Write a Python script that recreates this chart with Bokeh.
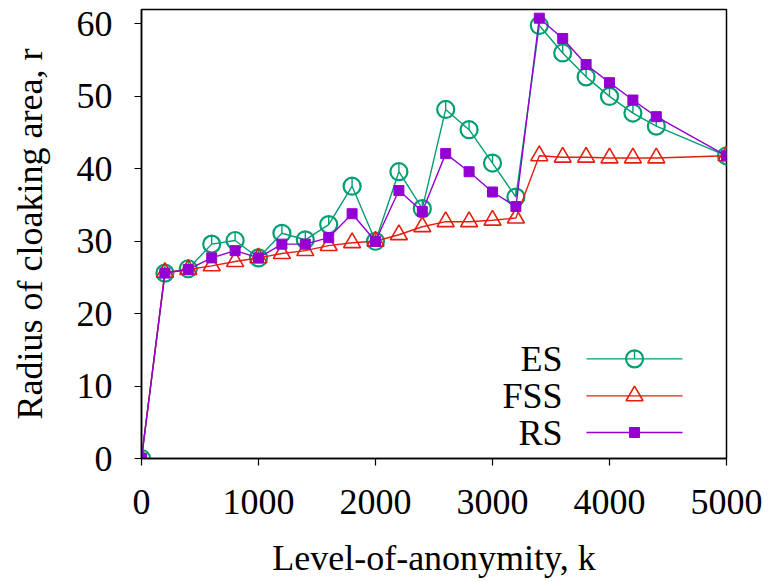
from bokeh.plotting import figure
from bokeh.models import Range1d, Label, FixedTicker
from bokeh.embed import file_html
from bokeh.resources import INLINE

# Level-of-anonymity k and the cloaking radius of each scheme
k = [0, 200, 400, 600, 800, 1000, 1200, 1400, 1600, 1800, 2000, 2200,
     2400, 2600, 2800, 3000, 3200, 3400, 3600, 3800, 4000, 4200, 4400, 5000]
es = [0, 25.6, 26.2, 29.6, 30.1, 27.7, 31.1, 30.2, 32.3, 37.6, 30.0, 39.6,
      34.5, 48.2, 45.4, 40.8, 36.1, 59.8, 56.0, 52.7, 50.0, 47.7, 45.9, 41.8]
fss = [0, 25.7, 26.1, 26.6, 27.2, 27.7, 28.3, 28.7, 29.4, 29.8, 30.0, 30.9,
       32.0, 32.7, 32.7, 32.9, 33.2, 41.8, 41.6, 41.6, 41.5, 41.5, 41.5, 41.8]
rs = [0, 25.6, 26.1, 27.7, 28.7, 27.7, 29.6, 29.6, 30.5, 33.8, 30.0, 37.0,
      34.1, 42.1, 39.6, 36.8, 34.8, 60.8, 58.0, 54.4, 51.9, 49.5, 47.2, 41.8]

x_ticks = [0, 1000, 2000, 3000, 4000, 5000]
y_ticks = [0, 10, 20, 30, 40, 50, 60]

series_names = ["ES", "FSS", "RS"]

GREEN = "#009e73"
RED = "#e51e10"
PURPLE = "#9400d3"
FONT = "'Liberation Serif', 'Times New Roman', serif"
FS = "36px"

X0, X1 = 0, 5000
Y0, Y1 = 0, 62

p = figure(width=771, height=582, output_backend="svg", toolbar_location=None,
           x_range=Range1d(X0, X1), y_range=Range1d(Y0, Y1),
           min_border_left=141, min_border_right=45,
           min_border_top=9, min_border_bottom=124)

p.grid.visible = False
p.background_fill_color = "white"
p.border_fill_color = "white"
p.outline_line_color = "black"
p.outline_line_width = 1.5

p.xaxis.ticker = FixedTicker(ticks=x_ticks)
p.yaxis.ticker = FixedTicker(ticks=y_ticks)
for ax in (p.xaxis, p.yaxis):
    ax.axis_line_color = "black"
    ax.axis_line_width = 1.5
    ax.major_tick_line_color = "black"
    ax.major_tick_line_width = 1.2
    ax.major_tick_in = 0
    ax.major_tick_out = 7
    ax.minor_tick_line_color = None
    ax.major_label_text_font = FONT
    ax.major_label_text_font_size = FS
    ax.major_label_text_color = "black"
    ax.axis_label_text_font = FONT
    ax.axis_label_text_font_size = FS
    ax.axis_label_text_font_style = "normal"
    ax.axis_label_text_color = "black"

p.xaxis.axis_label = "Level-of-anonymity, k"
p.yaxis.axis_label = "Radius of cloaking area, r"
p.xaxis.major_label_standoff = 24
p.xaxis.axis_label_standoff = 21
p.yaxis.major_label_standoff = 22
p.yaxis.axis_label_standoff = 24

# pixel -> data conversion for the small spoke drawn inside the circles
frame_h = 582 - 9 - 124
spoke = 8.0 * (Y1 - Y0) / frame_h

# ES: open circles with a spoke from the top to the centre
p.line(k, es, line_color=GREEN, line_width=1.4)
p.scatter(k, es, marker="circle", size=17, fill_color=None,
          line_color=GREEN, line_width=2.2)
p.segment(k, es, k, [v + spoke for v in es], line_color=GREEN, line_width=1.4)

# FSS: open triangles
p.line(k, fss, line_color=RED, line_width=1.4)
p.scatter(k, fss, marker="triangle", size=17, fill_color=None,
          line_color=RED, line_width=1.6)

# RS: filled squares
p.line(k, rs, line_color=PURPLE, line_width=1.4)
p.scatter(k, rs, marker="square", size=10, fill_color=PURPLE,
          line_color=PURPLE)

# Key: label on the left, line sample with its marker on the right
key_label_x = 3598
key_x0, key_x1, key_mid = 3803, 4624, 4214
key_y = [13.76, 8.65, 3.59]
key_colors = [GREEN, RED, PURPLE]

for name, yy, col in zip(series_names, key_y, key_colors):
    p.add_layout(Label(x=key_label_x, y=yy, text=name, text_align="right",
                       text_baseline="middle", text_font=FONT,
                       text_font_size=FS, text_color="black"))
    p.segment([key_x0], [yy], [key_x1], [yy], line_color=col, line_width=1.4)

p.scatter([key_mid], [key_y[0]], marker="circle", size=17, fill_color=None,
          line_color=GREEN, line_width=2.2)
p.segment([key_mid], [key_y[0]], [key_mid], [key_y[0] + spoke],
          line_color=GREEN, line_width=1.4)
p.scatter([key_mid], [key_y[1]], marker="triangle", size=17, fill_color=None,
          line_color=RED, line_width=1.6)
p.scatter([key_mid], [key_y[2]], marker="square", size=10, fill_color=PURPLE,
          line_color=PURPLE)

open("out.html", "w").write(file_html(p, INLINE))
